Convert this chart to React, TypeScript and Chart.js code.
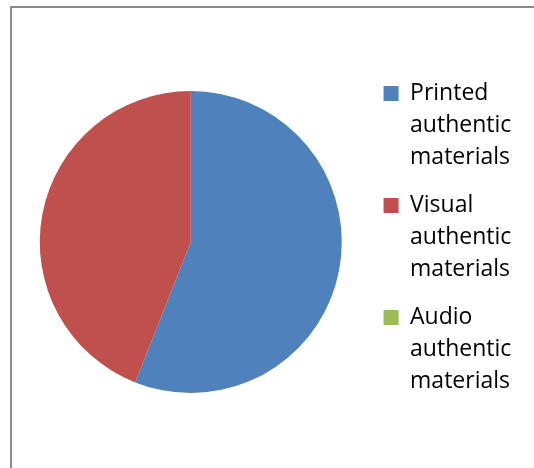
import React, { useEffect, useRef } from "react";
import { Chart, registerables } from "chart.js";

Chart.register(...registerables);

const categories: string[][] = [
  ["Printed", "authentic", "materials"],
  ["Visual", "authentic", "materials"],
  ["Audio", "authentic", "materials"],
];
const values: number[] = [56, 44, 0];
const colors: string[] = ["#4F81BD", "#C0504D", "#9BBB59"];

const framePlugin = {
  id: "frame",
  beforeDraw(chart: any) {
    const ctx = chart.ctx;
    ctx.save();
    ctx.fillStyle = "#ffffff";
    ctx.fillRect(0, 0, chart.width, chart.height);
    ctx.strokeStyle = "#8a8a8a";
    ctx.lineWidth = 2;
    ctx.strokeRect(11, 7, chart.width + 20, chart.height + 20);
    ctx.restore();
  },
};

export default function App() {
  const ref = useRef<HTMLCanvasElement | null>(null);
  useEffect(() => {
    if (!ref.current) return;
    const chart = new Chart(ref.current, {
      type: "pie",
      data: {
        labels: categories as any,
        datasets: [
          {
            data: values,
            backgroundColor: colors,
            borderWidth: 0,
            hoverBorderWidth: 0,
            hoverOffset: 0,
            radius: 151,
          },
        ],
      },
      options: {
        animation: false,
        responsive: true,
        maintainAspectRatio: false,
        layout: { padding: { left: 14, right: 14, top: 16, bottom: 0 } },
        plugins: {
          tooltip: { enabled: false },
          legend: {
            position: "right",
            labels: {
              boxWidth: 15,
              boxHeight: 15,
              padding: 16,
              color: "#000000",
              font: { family: "'Open Sans', sans-serif", size: 23, lineHeight: "32px" as any },
            },
          },
        },
      },
      plugins: [framePlugin],
    });
    return () => chart.destroy();
  }, []);
  return (
    <div style={{ position: "absolute", left: 0, top: 0, width: 534, height: 468 }}>
      <canvas ref={ref} />
    </div>
  );
}
